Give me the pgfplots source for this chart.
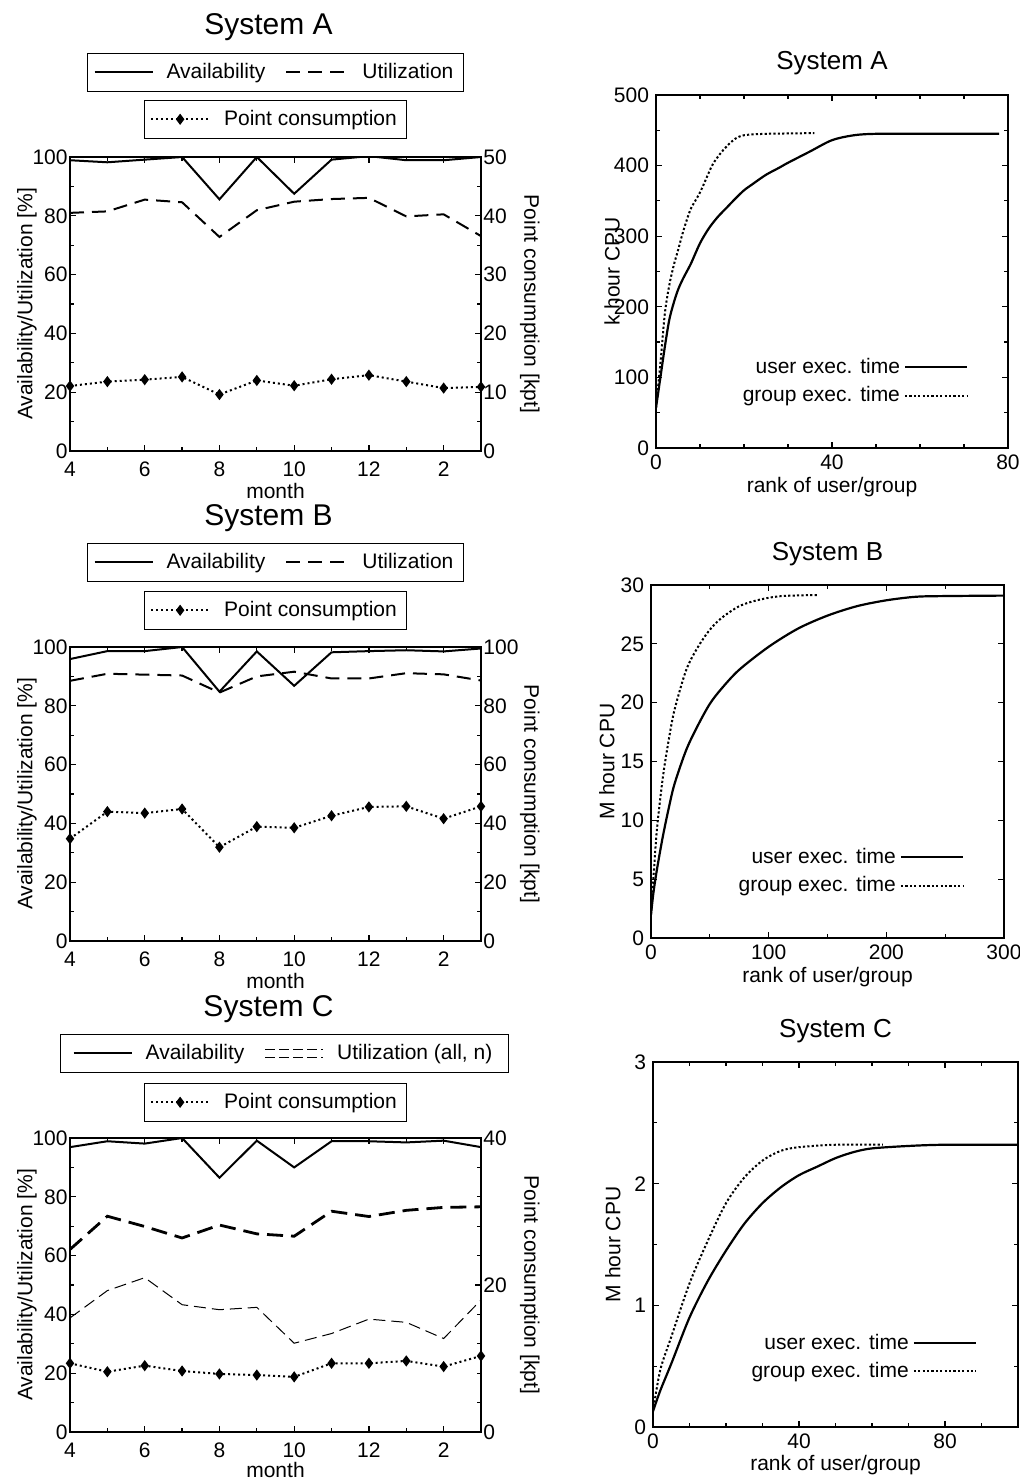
\documentclass[border=0pt]{standalone}
\usepackage{fontspec}
\setmainfont{Liberation Sans}
\usepackage{pgfplots}
\pgfplotsset{compat=1.18}

\pgfplotsset{
  base/.style={
    scale only axis, tick align=inside,
    font=\fontsize{10.5}{12}\selectfont,
    /pgf/number format/assume math mode=true,
    axis line style={line width=0.7pt},
    every tick/.style={black, line width=0.6pt},
    major tick length=3pt, minor tick length=2pt,
  },
  leftax/.style={base, width=205.5pt, height=147pt,
    xmin=4, xmax=15, ymin=0, ymax=100,
    xtick={4,6,...,14}, xticklabels={4,6,8,10,12,2}, minor xtick={5,7,...,15},
    ytick={0,20,...,100}, minor ytick={10,30,...,90}, ytick pos=left,
    xticklabel style={yshift=-2pt},
    yticklabel style={inner xsep=1pt},
    xlabel={month}, ylabel={Availability/Utilization [\%]},
    xlabel style={at={(axis description cs:0.5,-0.137)}, anchor=center},
    ylabel style={at={(axis description cs:-0.105,0.5)}, anchor=center},
    title style={font=\fontsize{15}{18}\selectfont, at={(axis description cs:0.5,1)}, anchor=base, yshift=55pt, xshift=-3.5pt},
    legend style={at={(axis description cs:0.5,1)}, anchor=south, yshift=32.5pt, draw=black, line width=0.6pt,
      inner xsep=3pt, inner ysep=3pt, legend columns=2,
      /tikz/every odd column/.append style={column sep=4.5pt},
      /tikz/every even column/.append style={column sep=8pt}},
  },
  pcax/.style={base, width=205.5pt, height=147pt,
    xmin=4, xmax=15, axis x line=none, axis y line*=right, ymin=0,
    yticklabel style={inner xsep=1pt},
    ylabel={Point consumption [kpt]},
    ylabel style={at={(axis description cs:1.119,0.5)}, anchor=center, rotate=180},
    legend style={at={(axis description cs:0.5,1)}, anchor=south, yshift=9pt, draw=black, line width=0.6pt,
      inner xsep=3pt, inner ysep=3pt,
      /tikz/every odd column/.append style={column sep=5pt}},
  },
  rightax/.style={base, xmin=0, ymin=0,
    xlabel={rank of user/group},
    xlabel style={at={(axis description cs:0.5,-0.11)}, anchor=center},
    title style={font=\fontsize{13}{15}\selectfont, at={(axis description cs:0.5,1)}, anchor=base, yshift=6.5pt},
    legend style={draw=none, fill=none, at={(axis description cs:0.905,0.278)}, anchor=north east, row sep=1pt},
    legend cell align=right, legend plot pos=right,
  },
  avail/.style={black, line width=1pt, solid,
    legend image code/.code={\draw[##1] (0pt,0pt) -- (29pt,0pt);}},
  util/.style={black, line width=1pt, dash pattern=on 7pt off 4pt,
    legend image code/.code={\draw[##1] (0pt,0pt) -- (31pt,0pt);}},
  utilall/.style={black, line width=1.4pt, dash pattern=on 8pt off 4pt,
    legend image code/.code={\draw[##1, line width=0.8pt, dash pattern=on 5pt off 2pt] (0pt,2pt) -- (29pt,2pt);
      \draw[##1, line width=0.8pt, dash pattern=on 5pt off 2pt] (0pt,-2pt) -- (29pt,-2pt);}},
  utiln/.style={black, line width=0.5pt, dash pattern=on 6pt off 3pt},
  pts/.style={black, line width=1pt, dash pattern=on 1pt off 1.5pt, mark=diamond*, mark size=2pt, mark options={solid},
    legend image code/.code={\draw[mark repeat=2,mark phase=2,##1] plot coordinates {(0pt,0pt) (14.5pt,0pt) (29pt,0pt)};}},
  usr/.style={black, line width=1.1pt, solid, smooth,
    legend image code/.code={\draw[##1] (0pt,0pt) -- (31pt,0pt);}},
  grp/.style={black, line width=1pt, dash pattern=on 1.1pt off 1.1pt, smooth,
    legend image code/.code={\draw[##1] (0pt,0pt) -- (31pt,0pt);}},
}

\begin{document}
\begin{tikzpicture}
\useasboundingbox (0,0) rectangle (510pt,-740.5pt);

% ---------- System A, left ----------
\begin{axis}[leftax, at={(35pt,-78.5pt)}, anchor=north west, title={System A}]
\addplot[avail] coordinates {(4,98.9) (5,98.2) (6,99.1) (7,100) (8,85.6) (9,100) (10,87.5) (11,99.1) (12,100.3) (13,98.9) (14,98.9) (15,100)};
\addplot[util] coordinates {(4,81.0) (5,81.5) (6,85.5) (7,84.6) (8,72.8) (9,81.9) (10,84.8) (11,85.7) (12,86.1) (13,79.8) (14,80.5) (15,73.1)};
\legend{Availability, Utilization}
\end{axis}
\begin{axis}[pcax, at={(35pt,-78.5pt)}, anchor=north west, ymax=50, ytick={0,10,...,50}, minor ytick={5,15,...,45}]
\addplot[pts] coordinates {(4,11.05) (5,11.8) (6,12.13) (7,12.6) (8,9.6) (9,12.0) (10,11.1) (11,12.2) (12,12.9) (13,11.8) (14,10.7) (15,10.9)};
\legend{Point consumption}
\end{axis}

% ---------- System B, left ----------
\begin{axis}[leftax, at={(35pt,-323.5pt)}, anchor=north west, title={System B}]
\addplot[avail] coordinates {(4,95.9) (5,98.6) (6,98.6) (7,100) (8,84.8) (9,98.5) (10,86.8) (11,98.2) (12,98.6) (13,98.9) (14,98.5) (15,99.5)};
\addplot[util] coordinates {(4,88.5) (5,90.9) (6,90.6) (7,90.3) (8,84.5) (9,90.0) (10,91.6) (11,89.3) (12,89.3) (13,91.1) (14,90.7) (15,88.6)};
\legend{Availability, Utilization}
\end{axis}
\begin{axis}[pcax, at={(35pt,-323.5pt)}, anchor=north west, ymax=100, ytick={0,20,...,100}, minor ytick={10,30,...,90},
  legend style={yshift=-0.5pt}]
\addplot[pts] coordinates {(4,34.8) (5,44.0) (6,43.5) (7,44.9) (8,31.9) (9,38.9) (10,38.5) (11,42.6) (12,45.6) (13,45.8) (14,41.6) (15,45.8)};
\legend{Point consumption}
\end{axis}

% ---------- System C, left ----------
\begin{axis}[leftax, at={(35pt,-569pt)}, anchor=north west, title={System C},
  xlabel style={at={(axis description cs:0.5,-0.128)}},
  legend style={xshift=4.5pt, inner xsep=6pt}]
\addplot[avail] coordinates {(4,96.9) (5,98.9) (6,98.1) (7,100) (8,86.5) (9,99.1) (10,90.0) (11,98.9) (12,98.9) (13,98.5) (14,99.1) (15,96.9)};
\addplot[utilall] coordinates {(4,62.1) (5,73.4) (6,69.9) (7,66.0) (8,70.4) (9,67.4) (10,66.6) (11,75.1) (12,73.3) (13,75.4) (14,76.4) (15,76.6)};
\addplot[utiln, forget plot] coordinates {(4,38.8) (5,48.1) (6,52.5) (7,43.3) (8,41.6) (9,42.4) (10,30.2) (11,33.5) (12,38.4) (13,37.3) (14,31.8) (15,44.9)};
\legend{Availability, Utilization (all{,} n)}
\end{axis}
\begin{axis}[pcax, at={(35pt,-569pt)}, anchor=north west, ymax=40, ytick={0,20,40}, minor ytick={4,8,12,16,24,28,32,36},
  legend style={yshift=-1pt}]
\addplot[pts] coordinates {(4,9.35) (5,8.2) (6,9.03) (7,8.3) (8,7.9) (9,7.75) (10,7.5) (11,9.35) (12,9.35) (13,9.67) (14,8.9) (15,10.35)};
\legend{Point consumption}
\end{axis}

% ---------- System A, right ----------
\begin{axis}[rightax, at={(328pt,-47.5pt)}, anchor=north west, width=176pt, height=176.5pt,
  xmax=80, ymax=500, xtick={0,40,80}, minor xtick={10,20,30,50,60,70},
  ytick={0,100,...,500}, minor ytick={50,150,...,450},
  ylabel={k hour CPU}, ylabel style={at={(axis description cs:-0.125,0.5)}, anchor=center},
  title={System A}]
\addplot[usr] coordinates {(0,57) (1,100) (2,143) (3,181) (4,205) (5,224) (6,238) (7,250) (8,262) (10,290) (12,311) (14,327) (16,340) (18,353) (20,365) (22,374) (25,387) (28,397) (30,404) (35,420) (40,436) (45,443) (50,445) (60,445) (78,445)};
\addplot[grp] coordinates {(0,57) (1,120) (2,190) (3,230) (4,258) (5,280) (6,303) (7,323) (8,340) (10,362) (12,390) (13,403) (15,420) (17,433) (18,438) (20,443) (25,445) (36,446)};
\legend{user exec. time, group exec. time}
\end{axis}

% ---------- System B, right ----------
\begin{axis}[rightax, at={(325.5pt,-292.5pt)}, anchor=north west, width=176.5pt, height=176.5pt,
  xmax=300, ymax=30, xtick={0,100,200,300}, minor xtick={50,150,250},
  ytick={0,5,...,30},
  ylabel={M hour CPU}, ylabel style={at={(axis description cs:-0.125,0.5)}, anchor=center},
  title={System B}]
\addplot[usr] coordinates {(0,2) (2,3.8) (5,5.8) (10,8.6) (15,11) (20,13.1) (30,16) (40,18.1) (50,19.9) (60,21.2) (75,22.8) (100,24.75) (125,26.3) (150,27.4) (175,28.2) (200,28.7) (225,29.0) (250,29.06) (300,29.1)};
\addplot[grp] coordinates {(0,2) (2,5) (5,9.2) (10,13.6) (15,16.8) (20,19.4) (30,22.8) (40,24.75) (50,26.2) (60,27.2) (75,28.2) (90,28.7) (110,29.05) (142,29.15)};
\legend{user exec. time, group exec. time}
\end{axis}

% ---------- System C, right ----------
\begin{axis}[rightax, at={(326.5pt,-531pt)}, anchor=north west, width=182.5pt, height=182.5pt,
  xmax=100, ymax=3, xtick={0,40,80}, minor xtick={10,20,30,50,60,70,90},
  ytick={0,1,2,3}, minor ytick={0.5,1.5,2.5},
  ylabel={M hour CPU}, ylabel style={at={(axis description cs:-0.11,0.5)}, anchor=center},
  xlabel style={at={(axis description cs:0.5,-0.105)}},
  title={System C}]
\addplot[usr] coordinates {(0,0.13) (2,0.30) (5,0.52) (10,0.90) (15,1.20) (20,1.45) (25,1.67) (30,1.84) (35,1.97) (40,2.07) (45,2.14) (50,2.21) (55,2.26) (60,2.29) (70,2.31) (80,2.32) (100,2.32)};
\addplot[grp] coordinates {(0,0.13) (2,0.47) (5,0.74) (10,1.18) (15,1.53) (20,1.84) (25,2.05) (30,2.19) (35,2.27) (40,2.30) (50,2.32) (63,2.32)};
\legend{user exec. time, group exec. time}
\end{axis}
\end{tikzpicture}
\end{document}
